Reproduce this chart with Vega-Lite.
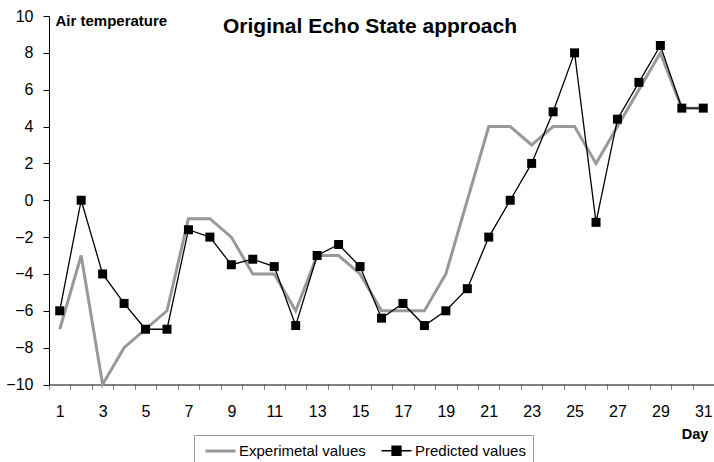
{
  "$schema": "https://vega.github.io/schema/vega-lite/v6.json",
  "width": 665,
  "height": 368.5,
  "autosize": {"type": "none"},
  "padding": {"left": 49, "top": 16, "right": 0, "bottom": 77.5},
  "background": "white",
  "config": {"font": "Liberation Sans", "view": {"stroke": null}},
  "title": {
    "text": "Original Echo State approach",
    "fontSize": 21,
    "fontWeight": "bold",
    "font": "Liberation Sans",
    "color": "black",
    "anchor": "middle",
    "baseline": "alphabetic",
    "dx": -11.5,
    "offset": -46
  },
  "data": {
    "values": [
      {"day": 1, "series": "Experimetal values", "value": -7},
      {"day": 2, "series": "Experimetal values", "value": -3},
      {"day": 3, "series": "Experimetal values", "value": -10},
      {"day": 4, "series": "Experimetal values", "value": -8},
      {"day": 5, "series": "Experimetal values", "value": -7},
      {"day": 6, "series": "Experimetal values", "value": -6},
      {"day": 7, "series": "Experimetal values", "value": -1},
      {"day": 8, "series": "Experimetal values", "value": -1},
      {"day": 9, "series": "Experimetal values", "value": -2},
      {"day": 10, "series": "Experimetal values", "value": -4},
      {"day": 11, "series": "Experimetal values", "value": -4},
      {"day": 12, "series": "Experimetal values", "value": -6},
      {"day": 13, "series": "Experimetal values", "value": -3},
      {"day": 14, "series": "Experimetal values", "value": -3},
      {"day": 15, "series": "Experimetal values", "value": -4},
      {"day": 16, "series": "Experimetal values", "value": -6},
      {"day": 17, "series": "Experimetal values", "value": -6},
      {"day": 18, "series": "Experimetal values", "value": -6},
      {"day": 19, "series": "Experimetal values", "value": -4},
      {"day": 20, "series": "Experimetal values", "value": 0},
      {"day": 21, "series": "Experimetal values", "value": 4},
      {"day": 22, "series": "Experimetal values", "value": 4},
      {"day": 23, "series": "Experimetal values", "value": 3},
      {"day": 24, "series": "Experimetal values", "value": 4},
      {"day": 25, "series": "Experimetal values", "value": 4},
      {"day": 26, "series": "Experimetal values", "value": 2},
      {"day": 27, "series": "Experimetal values", "value": 4},
      {"day": 28, "series": "Experimetal values", "value": 6},
      {"day": 29, "series": "Experimetal values", "value": 8},
      {"day": 30, "series": "Experimetal values", "value": 5},
      {"day": 31, "series": "Experimetal values", "value": 5},
      {"day": 1, "series": "Predicted values", "value": -6},
      {"day": 2, "series": "Predicted values", "value": 0},
      {"day": 3, "series": "Predicted values", "value": -4},
      {"day": 4, "series": "Predicted values", "value": -5.6},
      {"day": 5, "series": "Predicted values", "value": -7},
      {"day": 6, "series": "Predicted values", "value": -7},
      {"day": 7, "series": "Predicted values", "value": -1.6},
      {"day": 8, "series": "Predicted values", "value": -2},
      {"day": 9, "series": "Predicted values", "value": -3.5},
      {"day": 10, "series": "Predicted values", "value": -3.2},
      {"day": 11, "series": "Predicted values", "value": -3.6},
      {"day": 12, "series": "Predicted values", "value": -6.8},
      {"day": 13, "series": "Predicted values", "value": -3},
      {"day": 14, "series": "Predicted values", "value": -2.4},
      {"day": 15, "series": "Predicted values", "value": -3.6},
      {"day": 16, "series": "Predicted values", "value": -6.4},
      {"day": 17, "series": "Predicted values", "value": -5.6},
      {"day": 18, "series": "Predicted values", "value": -6.8},
      {"day": 19, "series": "Predicted values", "value": -6},
      {"day": 20, "series": "Predicted values", "value": -4.8},
      {"day": 21, "series": "Predicted values", "value": -2},
      {"day": 22, "series": "Predicted values", "value": 0},
      {"day": 23, "series": "Predicted values", "value": 2},
      {"day": 24, "series": "Predicted values", "value": 4.8},
      {"day": 25, "series": "Predicted values", "value": 8},
      {"day": 26, "series": "Predicted values", "value": -1.2},
      {"day": 27, "series": "Predicted values", "value": 4.4},
      {"day": 28, "series": "Predicted values", "value": 6.4},
      {"day": 29, "series": "Predicted values", "value": 8.4},
      {"day": 30, "series": "Predicted values", "value": 5},
      {"day": 31, "series": "Predicted values", "value": 5}
    ]
  },
  "encoding": {
    "x": {
      "field": "day",
      "type": "quantitative",
      "scale": {"domain": [0.5, 31.5], "nice": false, "zero": false},
      "axis": {
        "values": [0.5, 1.5, 2.5, 3.5, 4.5, 5.5, 6.5, 7.5, 8.5, 9.5, 10.5, 11.5, 12.5, 13.5, 14.5, 15.5, 16.5, 17.5, 18.5, 19.5, 20.5, 21.5, 22.5, 23.5, 24.5, 25.5, 26.5, 27.5, 28.5, 29.5, 30.5, 31.5],
        "labelExpr": "(datum.value - 0.5) % 2 === 0 && datum.value < 31 ? format(datum.value + 0.5, 'd') : ''",
        "labelOffset": 10.73,
        "labelFlush": false,
        "labelOverlap": false,
        "labelBound": false,
        "labelFontSize": 16,
        "labelColor": "black",
        "labelPadding": 14,
        "tickSize": 5,
        "tickColor": "#888888",
        "domainColor": "black",
        "domainWidth": 1,
        "grid": false,
        "title": "Day",
        "titleFontSize": 14.5,
        "titleFontWeight": "bold",
        "titleColor": "black",
        "titleX": 645.5,
        "titleY": 50,
        "titleAlign": "center",
        "titleBaseline": "middle"
      }
    },
    "y": {
      "field": "value",
      "type": "quantitative",
      "scale": {"domain": [-10, 10], "nice": false, "zero": false},
      "axis": {
        "values": [-10, -8, -6, -4, -2, 0, 2, 4, 6, 8, 10],
        "labelFontSize": 16,
        "labelColor": "black",
        "labelPadding": 10,
        "tickSize": 6,
        "tickColor": "black",
        "domainColor": "black",
        "grid": false,
        "title": "Air temperature",
        "titleAngle": 0,
        "titleFontSize": 15,
        "titleFontWeight": "bold",
        "titleColor": "black",
        "titleX": 6,
        "titleY": 4,
        "titleAlign": "left",
        "titleBaseline": "middle"
      }
    }
  },
  "layer": [
    {
      "mark": {"type": "line"},
      "encoding": {
        "color": {
          "field": "series",
          "type": "nominal",
          "scale": {"domain": ["Experimetal values", "Predicted values"], "range": ["#999999", "#000000"]},
          "legend": {
            "title": null,
            "orient": "none",
            "legendX": 145,
            "legendY": 419,
            "direction": "horizontal",
            "columns": 2,
            "strokeColor": "#999999",
            "fillColor": "white",
            "padding": 7,
            "symbolSize": 225,
            "symbolOffset": 10.5,
            "labelOffset": 9.5,
            "columnPadding": 11,
            "labelFontSize": 15,
            "labelFont": "Liberation Sans",
            "labelColor": "black",
            "encode": {
              "symbols": {
                "update": {
                  "shape": {"signal": "datum.value === 'Predicted values' ? 'M-2,0H2M-0.6,-0.6H0.6V0.6H-0.6Z' : 'M-2,0H2'"},
                  "stroke": {"signal": "datum.value === 'Predicted values' ? '#000000' : '#999999'"},
                  "fill": {"signal": "datum.value === 'Predicted values' ? '#000000' : 'transparent'"},
                  "strokeWidth": {"signal": "datum.value === 'Predicted values' ? 1.3 : 3"},
                  "opacity": {"value": 1}
                }
              }
            }
          }
        },
        "strokeWidth": {
          "field": "series",
          "type": "nominal",
          "scale": {"domain": ["Experimetal values", "Predicted values"], "range": [3, 1.3]},
          "legend": null
        }
      }
    },
    {
      "transform": [{"filter": "datum.series === 'Predicted values'"}],
      "mark": {"type": "point", "shape": "square", "filled": true, "size": 81, "color": "black", "opacity": 1}
    }
  ]
}
